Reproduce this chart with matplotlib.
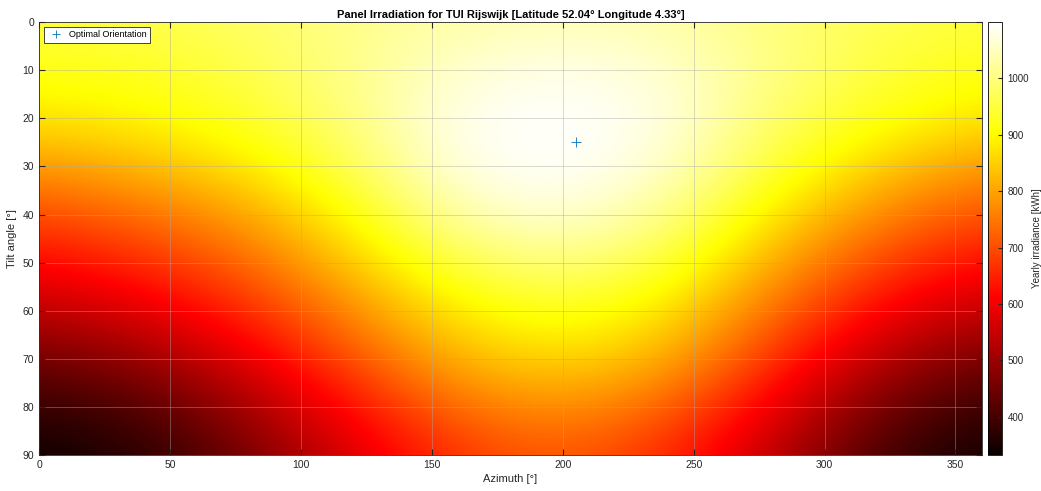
import numpy as np
import matplotlib
matplotlib.use("Agg")
import matplotlib.pyplot as plt

plt.rcParams["font.family"] = ["Liberation Sans", "DejaVu Sans"]

# yearly irradiance [kWh], rows = tilt angle, columns = azimuth
azimuth = [0, 40, 80, 120, 160, 200, 240, 280, 320, 360]
tilt = [0, 10, 20, 30, 40, 50, 60, 70, 80, 90]
irradiance = [
    [950, 960, 980, 1010, 1035, 1045, 1035, 1000, 965, 950],
    [920, 930, 960, 1010, 1065, 1085, 1065, 1005, 950, 920],
    [875, 895, 935, 1000, 1090, 1100, 1080, 985, 920, 875],
    [785, 825, 880, 970, 1085, 1100, 1065, 945, 850, 785],
    [695, 740, 800, 910, 1040, 1075, 1015, 880, 770, 700],
    [615, 660, 730, 845, 965, 1005, 950, 810, 690, 620],
    [535, 580, 660, 775, 890, 935, 880, 740, 610, 540],
    [450, 495, 585, 705, 825, 865, 815, 670, 530, 455],
    [380, 415, 510, 630, 745, 785, 730, 595, 455, 385],
    [335, 365, 455, 575, 675, 720, 660, 540, 400, 338],
]
opt_azimuth = 205
opt_tilt = 25
c_min, c_max = 332, 1100

fig = plt.figure(figsize=(10.41, 4.91), dpi=100)
ax = fig.add_axes([0.0375, 0.0733, 0.9055, 0.8817])
cax = fig.add_axes([0.9495, 0.0733, 0.0135, 0.8817])

d_az = azimuth[1] - azimuth[0]
d_t = tilt[1] - tilt[0]
im = ax.imshow(
    np.array(irradiance, dtype=float),
    cmap="hot",
    vmin=c_min,
    vmax=c_max,
    aspect="auto",
    interpolation="bicubic",
    extent=[azimuth[0] - d_az / 2, azimuth[-1] + d_az / 2,
            tilt[-1] + d_t / 2, tilt[0] - d_t / 2],
)
ax.set_xlim(0, 360)
ax.set_ylim(90, 0)

ax.plot(opt_azimuth, opt_tilt, "+", color="#0072BD", markersize=7,
        markeredgewidth=0.6, label="Optimal Orientation")

ax.set_xticks(np.arange(0, 360, 50))
ax.set_yticks(np.arange(0, 91, 10))
ax.grid(True, color="#a8a8a8", linewidth=0.6, alpha=0.5)
ax.tick_params(direction="in", labelsize=7.5, colors="#262626", length=4,
               top=True, right=True)
for s in ax.spines.values():
    s.set_color("#262626")
    s.set_linewidth(0.6)
ax.set_xlabel("Azimuth [°]", fontsize=8, color="#262626", labelpad=3)
ax.set_ylabel("Tilt angle [°]", fontsize=8, color="#262626", labelpad=4)
ax.set_title("Panel Irradiation for TUI Rijswijk [Latitude 52.04° Longitude 4.33°]",
             fontsize=8, fontweight="bold", pad=3)

leg = ax.legend(loc="upper left", fontsize=6.5, fancybox=False, framealpha=1,
                edgecolor="#262626", borderpad=0.4, handletextpad=0.4,
                borderaxespad=0.5, markerscale=0.8)
leg.get_frame().set_linewidth(0.6)

cb = fig.colorbar(im, cax=cax)
cb.set_ticks(np.arange(400, 1001, 100))
cb.ax.tick_params(direction="in", labelsize=7, colors="#262626", length=3)
cb.outline.set_linewidth(0.6)
cb.set_label("Yearly irradiance [kWh]", fontsize=7, color="#262626", labelpad=2)

fig.savefig("out.png", dpi=100)
